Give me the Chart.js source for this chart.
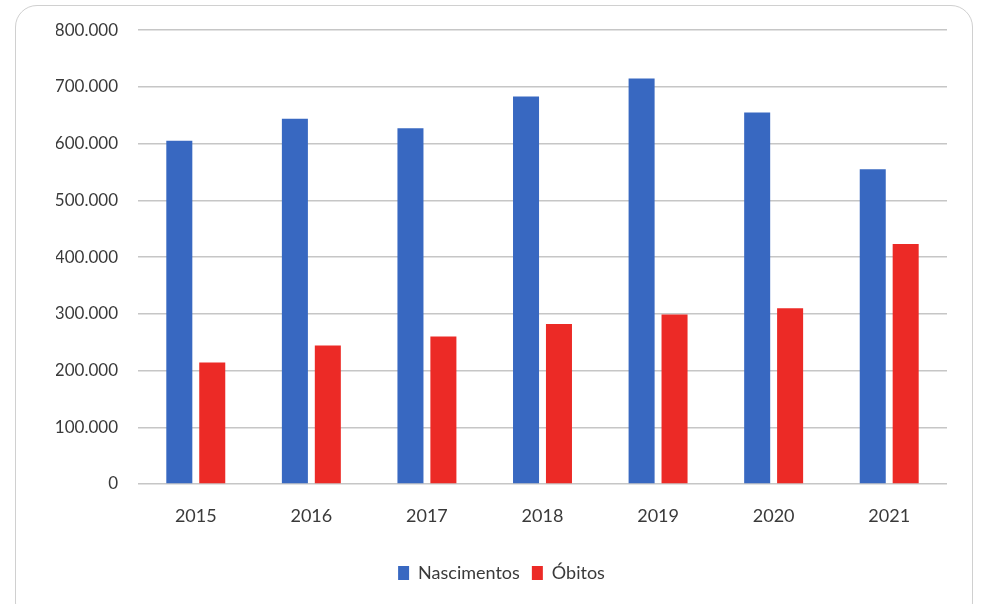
<!DOCTYPE html>
<html>
<head>
<meta charset="utf-8">
<script src="https://cdn.jsdelivr.net/npm/chart.js@4/dist/chart.umd.min.js"></script>
<style>
  html, body { margin: 0; padding: 0; background: #ffffff; }
  #wrap { position: absolute; left: 0; top: 0; width: 983px; height: 604px; }
  #frame { position: absolute; left: 15px; top: 5px; width: 958px; height: 620px;
           border: 1.5px solid #d0d0d0; border-radius: 22px; box-sizing: border-box; }
  canvas { position: absolute; left: 0; top: 0; }
</style>
</head>
<body>
<div id="wrap">
  <div id="frame"></div>
  <canvas id="c" width="983" height="604"></canvas>
</div>
<script>
const categories = ['2015', '2016', '2017', '2018', '2019', '2020', '2021'];
const nascimentos = [605000, 644000, 627000, 683000, 715000, 655000, 555000];
const obitos = [214000, 244000, 260000, 282000, 299000, 310000, 423000];
const seriesNames = ['Nascimentos', 'Óbitos'];
const yTicksMax = 800000;
const yTickStep = 100000;

function fmt(v) {
  return String(v).replace(/\B(?=(\d{3})+(?!\d))/g, '.');
}

const font = 'Lato, "Open Sans", sans-serif';

new Chart(document.getElementById('c'), {
  type: 'bar',
  data: {
    labels: categories,
    datasets: [
      { label: seriesNames[0], data: nascimentos, backgroundColor: '#3868C1',
        categoryPercentage: 0.57, barPercentage: 0.79 },
      { label: seriesNames[1], data: obitos, backgroundColor: '#EC2A26',
        categoryPercentage: 0.57, barPercentage: 0.79 }
    ]
  },
  options: {
    responsive: false,
    animation: false,
    devicePixelRatio: 1,
    layout: { padding: { left: 56, right: 36, top: 22, bottom: 12 } },
    plugins: {
      title: { display: false },
      tooltip: { enabled: false },
      legend: {
        position: 'bottom',
        labels: {
          boxWidth: 11, boxHeight: 14, padding: 12,
          color: '#3a3a3a',
          font: { family: font, size: 18 }
        }
      }
    },
    scales: {
      x: {
        grid: { display: false, drawTicks: false },
        border: { display: false },
        ticks: { color: '#3a3a3a', padding: 21, font: { family: font, size: 18 } },
        afterFit: (s) => { s.height = 68; }
      },
      y: {
        min: 0, max: yTicksMax,
        grid: { color: '#c6c6c6', lineWidth: 1.5, drawTicks: false },
        border: { display: false },
        ticks: { stepSize: yTickStep, color: '#3a3a3a', padding: 20,
                 font: { family: font, size: 17 }, callback: (v) => fmt(v) },
        afterFit: (s) => { s.width = 82; }
      }
    }
  }
});
</script>
</body>
</html>
